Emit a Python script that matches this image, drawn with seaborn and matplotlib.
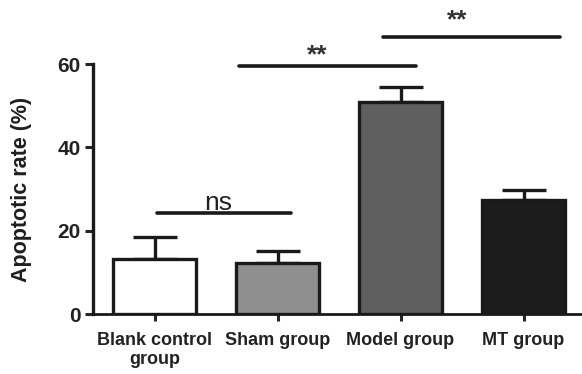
import matplotlib
matplotlib.use("Agg")
import matplotlib.pyplot as plt
import seaborn as sns
import pandas as pd

categories = ["Blank control\ngroup", "Sham group", "Model group", "MT group"]
means = [13.2, 12.2, 50.9, 27.3]
errors = [5.3, 2.9, 3.6, 2.5]
colors = ["#ffffff", "#8f8f8f", "#5f5f5f", "#1c1c1c"]
yticks = [0, 20, 40, 60]
ylabel = "Apoptotic rate (%)"
# significance brackets: (x start, x end, y level, label, label x, label y)
sig_x0 = [0.02, 0.69, 1.86]
sig_x1 = [1.11, 2.13, 3.30]
sig_y = [24.2, 59.5, 66.5]
sig_label = ["ns", "**", "**"]
sig_tx = [0.52, 1.32, 2.46]
sig_ty = [25.0, 60.4, 68.8]

sns.set_style("ticks")
plt.rcParams["font.family"] = ["Liberation Sans", "DejaVu Sans"]
plt.rcParams["font.weight"] = "bold"

df = pd.DataFrame({"group": categories, "rate": means})

fig = plt.figure(figsize=(5.82, 3.74), dpi=100)
ax = fig.add_axes([93 / 582, 60 / 374, 492 / 582, 250 / 374])

ax.errorbar(range(len(categories)), means,
            yerr=[[0] * len(errors), errors], fmt="none",
            ecolor="#1a1a1a", elinewidth=2.4, capsize=15.5, capthick=2.4,
            zorder=0)

sns.barplot(data=df, x="group", y="rate", hue="group", palette=colors,
            order=categories, hue_order=categories, legend=False,
            edgecolor="#1a1a1a", linewidth=2.4, width=0.67, ax=ax,
            errorbar=None, zorder=2)

ax.set_ylim(0, 60)
ax.set_xlim(-0.5, 3.5)
ax.set_yticks(yticks)
ax.set_ylabel(ylabel, fontsize=15.5, fontweight="bold", labelpad=18, color="#1e1e1e")
ax.set_xlabel("")
ax.tick_params(axis="y", labelsize=15, width=2.2, length=6, direction="out", pad=3)
ax.tick_params(axis="x", labelsize=13, width=2.2, length=5, direction="out", pad=8)
for lab in ax.get_xticklabels() + ax.get_yticklabels():
    lab.set_fontweight("bold")
    lab.set_color("#222222")
for lab in ax.get_xticklabels():
    lab.set_linespacing(1.12)

sns.despine(ax=ax)
ax.spines["left"].set_linewidth(2.4)
ax.spines["bottom"].set_linewidth(2.0)
ax.spines["left"].set_color("#1a1a1a")
ax.spines["bottom"].set_color("#1a1a1a")

for x0, x1, y, lab, tx, ty in zip(sig_x0, sig_x1, sig_y, sig_label, sig_tx, sig_ty):
    ax.plot([x0, x1], [y, y], color="#1a1a1a", lw=2.6, clip_on=False,
            solid_capstyle="round")
    if lab == "ns":
        ax.text(tx, ty, lab, ha="center", va="baseline",
                fontsize=19, fontweight="normal", color="#222222")
    else:
        ax.text(tx, ty, lab, ha="center", va="baseline",
                fontsize=19, fontweight="bold", color="#333333")

fig.savefig("out.png", dpi=100)
